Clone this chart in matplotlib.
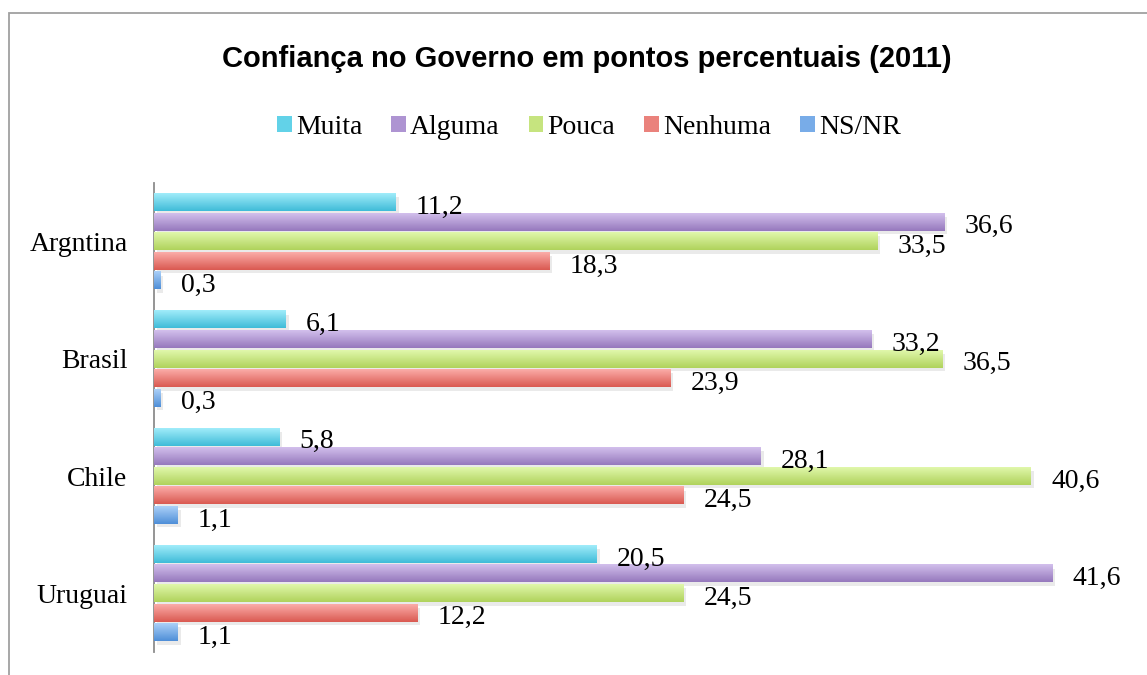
import matplotlib
matplotlib.use("Agg")
import matplotlib.pyplot as plt
import matplotlib.patheffects as pe
from matplotlib.patches import Rectangle, Patch
import numpy as np
from matplotlib.colors import to_rgb

countries = ["Argntina", "Brasil", "Chile", "Uruguai"]
series = ["Muita", "Alguma", "Pouca", "Nenhuma", "NS/NR"]
muita = [11.2, 6.1, 5.8, 20.5]
alguma = [36.6, 33.2, 28.1, 41.6]
pouca = [33.5, 36.5, 40.6, 24.5]
nenhuma = [18.3, 23.9, 24.5, 12.2]
nsnr = [0.3, 0.3, 1.1, 1.1]
values = [muita, alguma, pouca, nenhuma, nsnr]
labels = [["11,2", "6,1", "5,8", "20,5"],
          ["36,6", "33,2", "28,1", "41,6"],
          ["33,5", "36,5", "40,6", "24,5"],
          ["18,3", "23,9", "24,5", "12,2"],
          ["0,3", "0,3", "1,1", "1,1"]]

top_cols = ["#a0ecfa", "#d2bfec", "#e0f7ab", "#fbaca8", "#abd0f8"]
bot_cols = ["#40bcd8", "#9679bd", "#b0d35c", "#da5a52", "#4f8fd8"]
mid_cols = ["#62d2e8", "#ae94d2", "#c6e47f", "#ea827c", "#78ace8"]

W, H = 1147, 675
fig = plt.figure(figsize=(W / 100, H / 100), dpi=100)
fig.patch.set_facecolor("white")

# outer frame
fig.add_artist(Rectangle((9 / W, -0.05), 1.2, 1 - 12.5 / H + 0.05, transform=fig.transFigure,
                         fill=False, edgecolor="#a0a0a0", linewidth=1.3))

ax_l, ax_r = 154, 1126
ax_t, ax_b = 183, 652
ax = fig.add_axes([ax_l / W, 1 - ax_b / H, (ax_r - ax_l) / W, (ax_b - ax_t) / H])

serif = ["Liberation Serif", "DejaVu Serif"]
fs = 20
step = 0.167
bh = 0.148
y = np.arange(len(countries))
for i, (vals, s) in enumerate(zip(values, series)):
    pos = y + (i - 2) * step
    bars = ax.barh(pos, vals, height=bh, color=mid_cols[i], zorder=2,
                   path_effects=[pe.SimplePatchShadow(offset=(2, -2.5), shadow_rgbFace="#999999", alpha=0.2), pe.Normal()])
    t = np.array(to_rgb(top_cols[i]))
    b = np.array(to_rgb(bot_cols[i]))
    frac = np.linspace(0, 1, 32)[:, None]
    grad = (t[None, :] * (1 - frac) + b[None, :] * frac)[:, None, :]
    for p in bars:
        x0, y0, w, h = p.get_x(), p.get_y(), p.get_width(), p.get_height()
        ax.imshow(grad, extent=(x0, x0 + w, y0 + h, y0), origin="upper", aspect="auto",
                  interpolation="bilinear", zorder=3)
    for p, lab in zip(bars, labels[i]):
        ax.annotate(lab, (p.get_width(), p.get_y() + p.get_height() / 2),
                    xytext=(14.5, -3.5), textcoords="offset points", va="center", ha="left",
                    fontsize=fs, family=serif, color="black", zorder=5)

ax.set_xlim(0, 45)
ax.set_ylim(3.5, -0.5)
ax.set_yticks(y)
ax.set_yticklabels(countries, fontsize=fs, family=serif)
ax.set_xticks([])
ax.tick_params(axis="y", length=0, pad=19)
for sp in ["top", "right", "bottom"]:
    ax.spines[sp].set_visible(False)
ax.spines["left"].set_color("#8c8c8c")
ax.spines["left"].set_linewidth(1.3)
ax.set_facecolor("none")

fig.text(587 / W, 1 - 59 / H, "Confiança no Governo em pontos percentuais (2011)",
         ha="center", va="center", fontsize=21, fontweight="bold", family=["Liberation Sans", "DejaVu Sans"])

handles = [Patch(facecolor=mid_cols[i], edgecolor="none", label=s) for i, s in enumerate(series)]
fig.legend(handles=handles, loc="center", bbox_to_anchor=(589 / W, 1 - 127 / H), ncol=5, frameon=False,
           prop={"family": serif, "size": fs}, handlelength=0.52, handleheight=0.52,
           handletextpad=0.15, columnspacing=1.05, borderaxespad=0)

fig.savefig("out.png", dpi=100)
